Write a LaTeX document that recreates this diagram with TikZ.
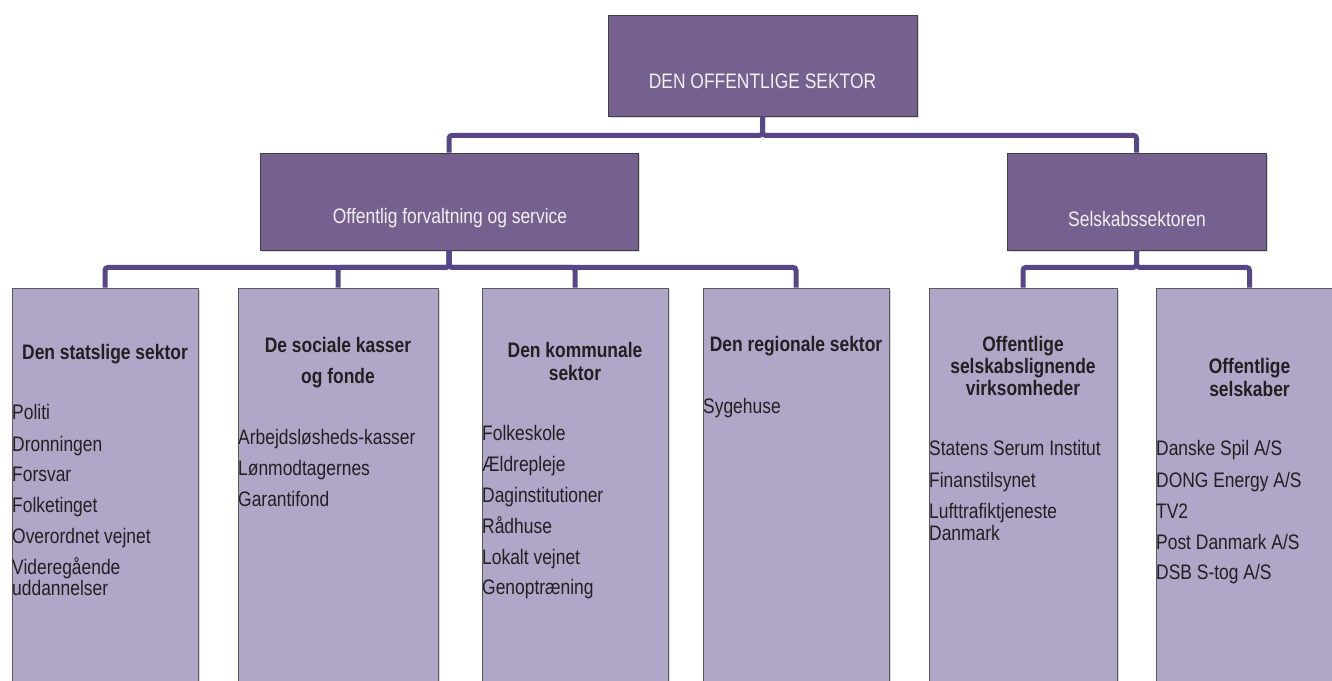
\documentclass[tikz,border=0pt]{standalone}
\usepackage{fontspec}
\setmainfont{Liberation Sans}[FakeStretch=0.83]
\usetikzlibrary{shadows}

\definecolor{darkpurple}{HTML}{76608F}
\definecolor{lightpurple}{HTML}{B0A7C8}
\definecolor{linkpurple}{HTML}{574787}
\definecolor{textdark}{HTML}{231F20}
\newcommand{\boxfont}{\fontsize{21}{21.7}\selectfont}

\begin{document}
\begin{tikzpicture}[x=1pt, y=-1pt,
    mainbox/.style ={rectangle, draw=black!75, line width=0.8pt, fill=darkpurple, inner sep=0pt,
      drop shadow={shadow xshift=2pt, shadow yshift=-2pt, opacity=0.3}},
    unitbox/.style ={rectangle, draw=black!65, line width=0.8pt, fill=lightpurple, inner sep=0pt,
      minimum height=432pt, drop shadow={shadow xshift=2pt, shadow yshift=-2pt, opacity=0.3}},
    boxtitle/.style ={anchor=base, inner sep=0pt, text=white!94!black, font=\boxfont},
    unithead/.style ={anchor=north, align=center, inner sep=0pt, text=textdark, font=\boxfont\bfseries},
    unitlist/.style ={anchor=north west, align=left, inner sep=0pt, text=textdark, font=\boxfont},
    link/.style ={draw=linkpurple, line width=5pt, rounded corners=3pt}]

   \useasboundingbox (0,0) rectangle (1332,680);
   \clip (0,0) rectangle (1332,680);

   % top level
   \node[mainbox, minimum width=309pt, minimum height=101pt] (top) at (762.5,65.5) {};
   \node[boxtitle] (toptext) at (762.5,88.3) {DEN OFFENTLIGE SEKTOR};

   % second level
   \node[mainbox, minimum width=378pt, minimum height=97pt] (pub) at (449,201.5) {};
   \node[mainbox, minimum width=259pt, minimum height=97pt] (sel) at (1136.5,201.5) {};
   \node[boxtitle] (pubtext) at (450,223.5) {Offentlig forvaltning og service};
   \node[boxtitle] (seltext) at (1137,226) {Selskabssektoren};

   % sectors
   \node[unitbox, minimum width=186pt] (b1) at (105,504) {};
   \node[unitbox, minimum width=200pt] (b2) at (338,504) {};
   \node[unitbox, minimum width=186pt] (b3) at (575,504) {};
   \node[unitbox, minimum width=186pt] (b4) at (796,504) {};
   \node[unitbox, minimum width=188pt] (b5) at (1023,504) {};
   \node[unitbox, minimum width=187pt] (b6) at (1249.5,504) {};

   \node[unithead] (h1) at (105,343.8) {\strut Den statslige sektor};
   \node[unithead] (h2) at (338,337.5) {\strut De sociale kasser\\[8.3pt]og fonde};
   \node[unithead] (h3) at (575,342.1) {\strut Den kommunale\\sektor};
   \node[unithead] (h4) at (796,335.8) {\strut Den regionale sektor};
   \node[unithead] (h5) at (1023,335.8) {\strut Offentlige\\selskabslignende\\virksomheder};
   \node[unithead] (h6) at (1249.5,358.1) {\strut Offentlige\\selskaber};

   \node[unitlist] (l1) at (12,404.1) {\strut Politi\\[9pt]Dronningen\\[9pt]Forsvar\\[9pt]Folketinget\\[9pt]Overordnet vejnet\\[9pt]Videregående\\uddannelser};
   \node[unitlist] (l2) at (238,428.8) {\strut Arbejdsløsheds-kasser\\[9pt]Lønmodtagernes\\[9pt]Garantifond};
   \node[unitlist] (l3) at (482,424.8) {\strut Folkeskole\\[9pt]Ældrepleje\\[9pt]Daginstitutioner\\[9pt]Rådhuse\\[9pt]Lokalt vejnet\\[9pt]Genoptræning};
   \node[unitlist] (l4) at (703,398.1) {\strut Sygehuse};
   \node[unitlist] (l5) at (929,440.5) {\strut Statens Serum Institut\\[9pt]Finanstilsynet\\[9pt]Lufttrafiktjeneste\\Danmark};
   \node[unitlist] (l6) at (1156,440.5) {\strut Danske Spil A/S\\[9pt]DONG Energy A/S\\[9pt]TV2\\[9pt]Post Danmark A/S\\[9pt]DSB S-tog A/S};

   % connectors
   \draw[link] (top.south) -- ++(0,19) -| (pub.north);
   \draw[link] (top.south) -- ++(0,19) -| (sel.north);
   \draw[link] (pub.south) -- ++(0,17) -| (b1.north);
   \draw[link] (pub.south) -- ++(0,17) -| (b2.north);
   \draw[link] (pub.south) -- ++(0,17) -| (b3.north);
   \draw[link] (pub.south) -- ++(0,17) -| (b4.north);
   \draw[link] (sel.south) -- ++(0,17) -| (b5.north);
   \draw[link] (sel.south) -- ++(0,17) -| (b6.north);

 \end{tikzpicture}
\end{document}
